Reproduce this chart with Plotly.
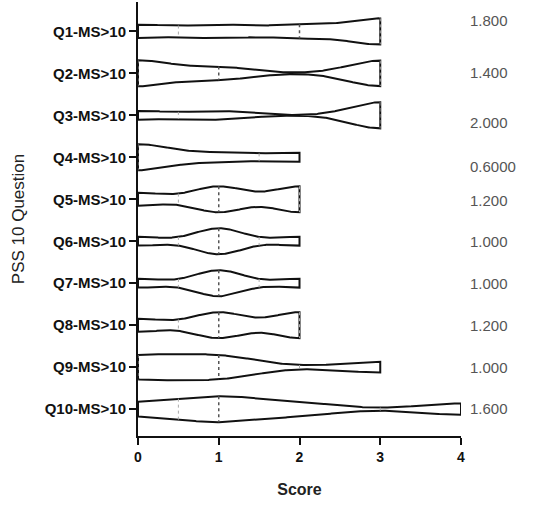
import numpy as np
import plotly.graph_objects as go

questions = ["Q1-MS>10", "Q2-MS>10", "Q3-MS>10", "Q4-MS>10", "Q5-MS>10",
             "Q6-MS>10", "Q7-MS>10", "Q8-MS>10", "Q9-MS>10", "Q10-MS>10"]

q1_scores = [0, 1, 2, 3, 3]
q2_scores = [0, 0, 1, 3, 3]
q3_scores = [0, 1, 3, 3, 3]
q4_scores = [0, 0, 0, 1, 2]
q5_scores = [0, 1, 1, 2, 2]
q6_scores = [0, 1, 1, 1, 2]
q7_scores = [0, 1, 1, 1, 2]
q8_scores = [0, 1, 1, 2, 2]
q9_scores = [0, 0, 1, 1, 3]
q10_scores = [0, 1, 1, 2, 4]

mean_labels = ["1.800", "1.400", "2.000", "0.6000", "1.200",
               "1.000", "1.000", "1.200", "1.000", "1.600"]

x_ticks = [0, 1, 2, 3, 4]

all_scores = [q1_scores, q2_scores, q3_scores, q4_scores, q5_scores,
              q6_scores, q7_scores, q8_scores, q9_scores, q10_scores]

# style: kernel smoothing per violin, violin half width, label offsets
smoothing = [0.4, 0.4, 0.37, 0.4, 0.32, 0.3, 0.3, 0.32, 0.5, 0.5]
HALF = 0.31
label_yshift = [11, 1, -7, -9, -1, 0, 0, 0, 0, 1]
FONT = "Liberation Sans, Arial, sans-serif"


def kde(data, grid, h):
    d = np.asarray(data, dtype=float)
    g = np.asarray(grid, dtype=float)
    return np.exp(-((g[:, None] - d[None, :]) ** 2) / (2 * h * h)).sum(axis=1)


fig = go.Figure()
med_x, med_y, q_x, q_y = [], [], [], []
for i, data in enumerate(all_scores):
    pos = i + 1
    bw = smoothing[i]
    lo, hi = min(data), max(data)
    grid = np.linspace(lo, hi, 300)
    dens = kde(data, grid, bw)
    dmax = dens.max()
    hw = dens / dmax * HALF
    xs = list(grid) + list(grid[::-1]) + [grid[0]]
    ys = list(pos - hw) + list((pos + hw)[::-1]) + [pos - hw[0]]
    fig.add_trace(go.Scatter(x=xs, y=ys, mode="lines", fill="toself",
                             fillcolor="white",
                             line=dict(color="#111", width=2),
                             hoverinfo="skip", showlegend=False,
                             cliponaxis=False))
    med = float(np.median(data))
    q25, q75 = np.percentile(data, [25, 75], method="weibull")
    h_med = kde(data, [med], bw)[0] / dmax * HALF
    med_x += [med, med, None]
    med_y += [pos - h_med, pos + h_med, None]
    for q in (q25, q75):
        h_q = kde(data, [q], bw)[0] / dmax * HALF
        q_x += [q, q, None]
        q_y += [pos - h_q, pos + h_q, None]

fig.add_trace(go.Scatter(x=q_x, y=q_y, mode="lines",
                         line=dict(color="#aaa", width=1, dash="dot"),
                         hoverinfo="skip", showlegend=False, cliponaxis=False))
fig.add_trace(go.Scatter(x=med_x, y=med_y, mode="lines",
                         line=dict(color="#555", width=1.5, dash="3px,3px"),
                         hoverinfo="skip", showlegend=False, cliponaxis=False))

for i, lab in enumerate(mean_labels):
    fig.add_annotation(x=1.022, xref="paper", y=i + 1, yref="y", text=lab,
                       showarrow=False, xanchor="left", yanchor="middle",
                       yshift=label_yshift[i],
                       font=dict(family=FONT, size=15, color="#555"))

fig.update_layout(
    width=542, height=505,
    margin=dict(l=138, r=81, t=2, b=69),
    paper_bgcolor="white", plot_bgcolor="white",
    font=dict(family=FONT, color="#111"),
    hovermode=False,
    xaxis=dict(range=[0, 4], tickvals=x_ticks, showgrid=False, zeroline=False,
               showline=True, linecolor="#111", linewidth=2,
               ticks="outside", ticklen=7, tickwidth=2, tickcolor="#111",
               tickfont=dict(size=14, family=FONT, color="#111", weight="bold"),
               title=dict(text="Score", standoff=20,
                          font=dict(size=16, family=FONT, color="#222", weight="bold"))),
    yaxis=dict(range=[10.64, 0.3], tickvals=list(range(1, 11)), ticktext=questions,
               showgrid=False, zeroline=False,
               showline=True, linecolor="#111", linewidth=2,
               ticks="outside", ticklen=7, tickwidth=2, tickcolor="#111",
               tickfont=dict(size=15, family=FONT, color="#111", weight="bold"),
               title=dict(text="PSS 10 Question", standoff=16,
                          font=dict(size=17, family=FONT, color="#222"))),
)

fig.write_html("out.html", config={"displayModeBar": False},
               post_script="document.body.style.margin='0';")
